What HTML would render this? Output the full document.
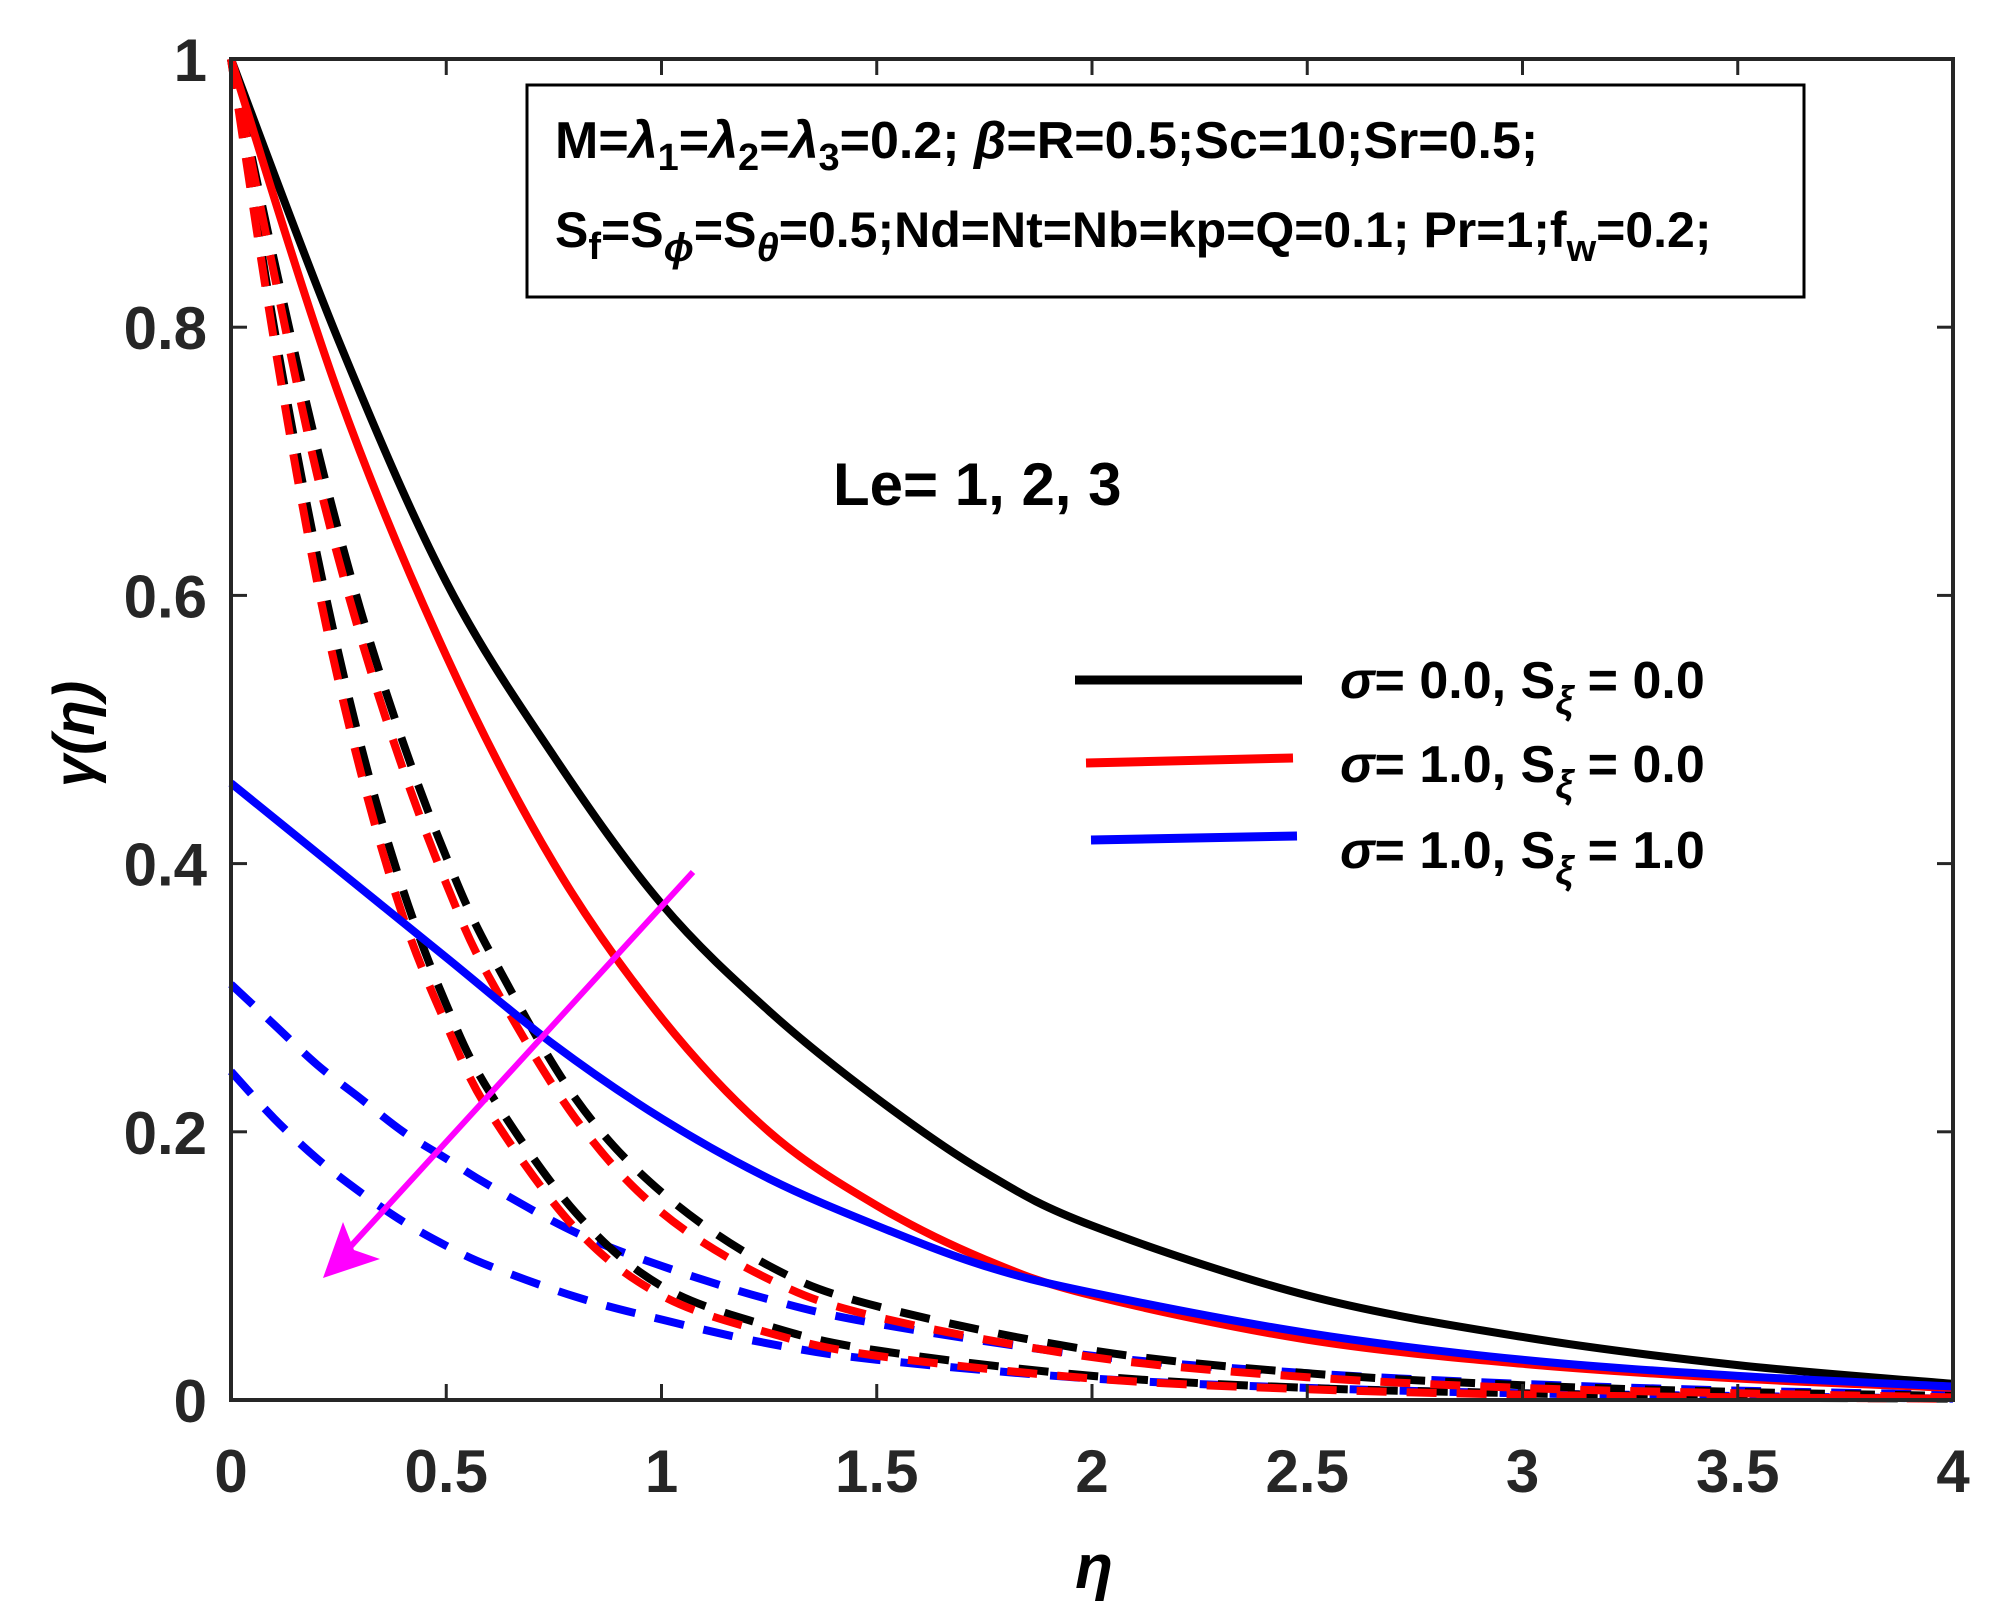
<!DOCTYPE html>
<html><head><meta charset="utf-8"><style>
body{margin:0;background:#fff}
svg{display:block}
text{font-family:"Liberation Sans",sans-serif;font-weight:bold}
</style></head><body>
<svg id="chart" width="1991" height="1623" viewBox="0 0 1991 1623" xmlns="http://www.w3.org/2000/svg">
<rect width="1991" height="1623" fill="#fff"/>
<g id="series"></g>
<rect x="231" y="59" width="1722" height="1341" fill="none" stroke="#262626" stroke-width="4"/>
<g id="ticks"></g>
<g>
<rect x="527" y="85" width="1277" height="212" fill="#fff" stroke="#000" stroke-width="3"/>
<text x="555" y="158" font-size="52">M=<tspan font-style="italic">λ</tspan><tspan dy="12" font-size="38">1</tspan><tspan dy="-12">=</tspan><tspan font-style="italic">λ</tspan><tspan dy="12" font-size="38">2</tspan><tspan dy="-12">=</tspan><tspan font-style="italic">λ</tspan><tspan dy="12" font-size="38">3</tspan><tspan dy="-12">=0.2; </tspan><tspan font-style="italic">β</tspan>=R=0.5;Sc=10;Sr=0.5;</text>
<text x="555" y="247" font-size="50">S<tspan dy="12" font-size="38">f</tspan><tspan dy="-12">=S</tspan><tspan dy="14" font-size="40" font-style="italic">ϕ</tspan><tspan dy="-14">=S</tspan><tspan dy="14" font-size="40" font-style="italic">θ</tspan><tspan dy="-14">=0.5;Nd=Nt=Nb=kp=Q=0.1; Pr=1;f</tspan><tspan dy="14" font-size="38">w</tspan><tspan dy="-14">=0.2;</tspan></text>
</g>
<text x="833" y="505" font-size="60">Le= 1, 2, 3</text>
<g>
<line x1="693" y1="872" x2="340" y2="1258" stroke="#ff00ff" stroke-width="6"/>
<polygon points="323,1278 343,1222 354,1250 380,1259" fill="#ff00ff"/>
</g>
<g>
<line x1="1075" y1="680" x2="1302" y2="680" stroke="#000" stroke-width="9"/>
<line x1="1086" y1="763" x2="1293" y2="758" stroke="#f00" stroke-width="9"/>
<line x1="1091" y1="840" x2="1297" y2="836" stroke="#00f" stroke-width="9"/>
<text x="1340" y="698" font-size="52"><tspan font-style="italic">σ</tspan>= 0.0, S<tspan dy="16" font-size="40" font-style="italic">ξ</tspan><tspan dy="-16"> = 0.0</tspan></text>
<text x="1340" y="782" font-size="52"><tspan font-style="italic">σ</tspan>= 1.0, S<tspan dy="16" font-size="40" font-style="italic">ξ</tspan><tspan dy="-16"> = 0.0</tspan></text>
<text x="1340" y="868" font-size="52"><tspan font-style="italic">σ</tspan>= 1.0, S<tspan dy="16" font-size="40" font-style="italic">ξ</tspan><tspan dy="-16"> = 1.0</tspan></text>
</g>
<text x="0" y="0" font-size="58" font-style="italic" transform="translate(94,734) rotate(-90)" text-anchor="middle">γ(η)</text>
<text x="1094" y="1588" font-size="62" font-style="italic" text-anchor="middle">η</text>
</svg>
<script>
const xTicks=[0,0.5,1,1.5,2,2.5,3,3.5,4];
const yTicks=[0,0.2,0.4,0.6,0.8,1];
const xTickLabels=["0","0.5","1","1.5","2","2.5","3","3.5","4"];
const yTickLabels=["0","0.2","0.4","0.6","0.8","1"];
const etaSolid=[0,0.25,0.5,0.75,1,1.25,1.5,1.75,2,2.5,3,3.5,4];
const blackSolid=[1,0.79,0.61,0.48,0.37,0.29,0.225,0.17,0.13,0.078,0.047,0.026,0.012];
const redSolid=[1,0.75,0.555,0.4,0.285,0.2,0.145,0.105,0.078,0.045,0.027,0.016,0.009];
const blueSolid=[0.46,0.395,0.33,0.265,0.21,0.165,0.13,0.1,0.08,0.05,0.03,0.018,0.01];
const etaDash=[0,0.1,0.2,0.3,0.4,0.5,0.6,0.8,1,1.25,1.5,2,2.5,3,3.5,4];
const blackDashLe2=[1,0.85,0.71,0.59,0.49,0.405,0.335,0.225,0.155,0.1,0.07,0.037,0.02,0.011,0.006,0.003];
const redDashLe2=[1,0.84,0.69,0.57,0.47,0.385,0.315,0.21,0.14,0.09,0.062,0.032,0.017,0.009,0.005,0.002];
const blackDashLe3=[1,0.8,0.63,0.49,0.38,0.295,0.23,0.14,0.085,0.055,0.037,0.018,0.009,0.005,0.002,0.001];
const redDashLe3=[1,0.79,0.61,0.47,0.36,0.28,0.215,0.128,0.078,0.05,0.033,0.016,0.008,0.004,0.002,0.001];
const blueDashLe2=[0.31,0.28,0.25,0.225,0.2,0.18,0.16,0.125,0.1,0.075,0.057,0.033,0.02,0.012,0.007,0.004];
const blueDashLe3=[0.245,0.21,0.18,0.155,0.133,0.115,0.1,0.077,0.06,0.042,0.03,0.016,0.009,0.005,0.003,0.001];
const X0=231,X1=1953,Y0=1400,Y1=59;
function sx(v){return X0+(v-0)/(4-0)*(X1-X0);}
function sy(v){return Y0-(v-0)/(1-0)*(Y0-Y1);}
const NS="http://www.w3.org/2000/svg";
const sg=document.getElementById('series');
function draw(xs,ys,color,dashed,name){
  const p=document.createElementNS(NS,'path');
  const pts=xs.map((x,i)=>[sx(x),sy(ys[i])]);
  let d='M'+pts[0][0]+','+pts[0][1];
  for(let i=0;i<pts.length-1;i++){
    const p0=pts[Math.max(0,i-1)],p1=pts[i],p2=pts[i+1],p3=pts[Math.min(pts.length-1,i+2)];
    const c1=[p1[0]+(p2[0]-p0[0])/6,p1[1]+(p2[1]-p0[1])/6];
    const c2=[p2[0]-(p3[0]-p1[0])/6,p2[1]-(p3[1]-p1[1])/6];
    d+=' C'+c1[0]+','+c1[1]+' '+c2[0]+','+c2[1]+' '+p2[0]+','+p2[1];
  }
  p.setAttribute('d',d);
  p.setAttribute('fill','none');
  p.setAttribute('stroke',color);
  p.setAttribute('stroke-width','8');
  if(dashed)p.setAttribute('stroke-dasharray','30,20');
  
  
  sg.appendChild(p);
}
draw(etaDash,blueDashLe3,'#00f',true,'blue-dashed-le3');
draw(etaDash,blueDashLe2,'#00f',true,'blue-dashed-le2');
draw(etaDash,blackDashLe3,'#000',true,'black-dashed-le3');
draw(etaDash,blackDashLe2,'#000',true,'black-dashed-le2');
draw(etaDash,redDashLe3,'#f00',true,'red-dashed-le3');
draw(etaDash,redDashLe2,'#f00',true,'red-dashed-le2');
draw(etaSolid,blackSolid,'#000',false,'black-solid-le1');
draw(etaSolid,redSolid,'#f00',false,'red-solid-le1');
draw(etaSolid,blueSolid,'#00f',false,'blue-solid-le1');
const tg=document.getElementById('ticks');
xTicks.forEach((v,i)=>{
  const x=sx(v);
  [[Y0,Y0-16],[Y1,Y1+16]].forEach(([a,b])=>{
    const l=document.createElementNS(NS,'line');
    l.setAttribute('x1',x);l.setAttribute('x2',x);l.setAttribute('y1',a);l.setAttribute('y2',b);
    l.setAttribute('stroke','#262626');l.setAttribute('stroke-width','3');
    
    
    tg.appendChild(l);
  });
  const t=document.createElementNS(NS,'text');
  t.setAttribute('x',x);t.setAttribute('y',1492);t.setAttribute('font-size','60');
  t.setAttribute('text-anchor','middle');t.setAttribute('fill','#262626');
  t.textContent=xTickLabels[i];
  
  
  tg.appendChild(t);
});
yTicks.forEach((v,i)=>{
  const y=sy(v);
  [[X0,X0+16],[X1,X1-16]].forEach(([a,b])=>{
    const l=document.createElementNS(NS,'line');
    l.setAttribute('x1',a);l.setAttribute('x2',b);l.setAttribute('y1',y);l.setAttribute('y2',y);
    l.setAttribute('stroke','#262626');l.setAttribute('stroke-width','3');
    
    
    tg.appendChild(l);
  });
  const t=document.createElementNS(NS,'text');
  t.setAttribute('x',207);t.setAttribute('y',y+22);t.setAttribute('font-size','60');
  t.setAttribute('text-anchor','end');t.setAttribute('fill','#262626');
  t.textContent=yTickLabels[i];
  
  
  tg.appendChild(t);
});
</script>
</body></html>
